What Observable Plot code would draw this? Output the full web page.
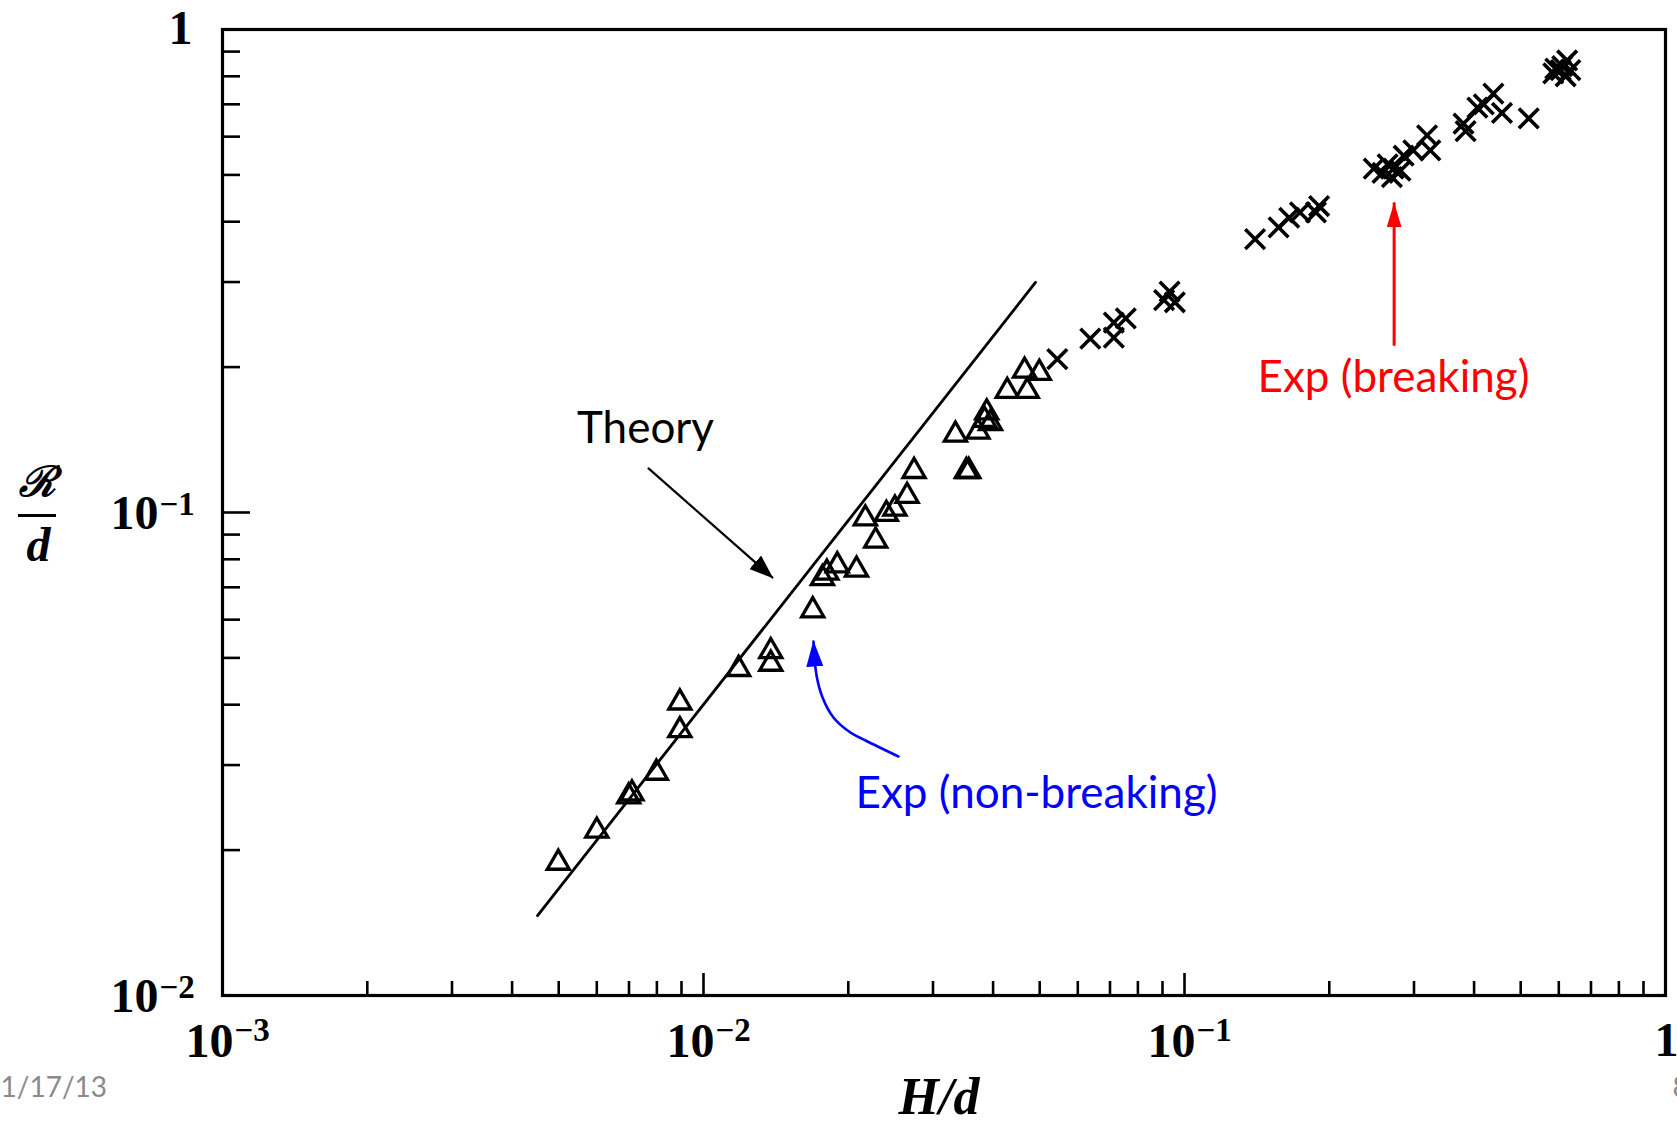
<!DOCTYPE html>
<html>
<head>
<meta charset="utf-8">
<script src="https://cdn.jsdelivr.net/npm/d3@7"></script>
<script src="https://cdn.jsdelivr.net/npm/@observablehq/plot@0.6"></script>
<style>
  html, body { margin: 0; padding: 0; background: #fff; }
  #wrap { position: relative; width: 1677px; height: 1126px; overflow: hidden; }
</style>
</head>
<body>
<div id="wrap"></div>
<script>
// ---------- data ----------
// Experiments, non-breaking (triangles): H/d and R/d
const triH = [0.00499,0.0060,0.00699,0.0071,0.00798,0.00893,0.00893,0.01183,0.0138,0.0138,0.01687,0.01767,0.01805,0.01897,0.0208,0.0217,0.0228,0.0240,0.0250,0.0265,0.0274,0.0334,0.0352,0.0356,0.0372,0.0384,0.0388,0.0395,0.0428,0.0465,0.0471,0.0499];
const triR = [0.01882,0.02193,0.02582,0.0262,0.0289,0.0354,0.0404,0.0474,0.0516,0.0486,0.0627,0.0731,0.0750,0.0777,0.0761,0.0972,0.0874,0.0993,0.1018,0.1082,0.1218,0.1448,0.1218,0.1218,0.1470,0.1554,0.1611,0.1531,0.1784,0.1965,0.1784,0.1945];
// Experiments, breaking (crosses)
const crsH = [0.0544,0.0637,0.0713,0.0713,0.0755,0.0907,0.0931,0.0955,0.1402,0.1569,0.1651,0.1738,0.1876,0.1905,0.2474,0.2580,0.2644,0.2699,0.2720,0.2812,0.2855,0.2990,0.3194,0.3244,0.3802,0.3841,0.4064,0.4190,0.4387,0.4571,0.5196,0.5843,0.5900,0.6055,0.6100,0.6200,0.6245,0.6341];
const crsR = [0.2078,0.2291,0.2472,0.2302,0.2523,0.2752,0.2867,0.2724,0.3681,0.3893,0.4076,0.4181,0.4181,0.4310,0.5152,0.5050,0.5258,0.4948,0.5150,0.5101,0.5479,0.5621,0.6035,0.5621,0.6384,0.6161,0.6892,0.6998,0.7364,0.6718,0.6547,0.8114,0.8300,0.8237,0.8400,0.8000,0.8627,0.8237];
// Theory line (end points)
const theoryH = [0.004518, 0.0490];
const theoryR = [0.01464, 0.2994];

// Tick labels
const xDecades = [1e-3, 1e-2, 1e-1];
const xExp = ["\u22123", "\u22122", "\u22121"];
const yDecades = [1e-2, 1e-1];
const yExp = ["\u22122", "\u22121"];
const xMinorMult = [2,3,4,5,6,7,8,9];

// Annotations
const annText = ["Theory", "Exp (non-breaking)", "Exp (breaking)"];
const annH = [0.007576, 0.04925, 0.2719];
const annR = [0.1492, 0.02619, 0.1903];
const annColor = ["black", "#0000ff", "#ff0000"];
const theoryArrowH = [0.007686, 0.01391];
const theoryArrowR = [0.1234, 0.07335];
const blueArrowH = [0.02543, 0.02172, 0.02020, 0.01863, 0.01768, 0.01718, 0.01693];
const blueArrowR = [0.03125, 0.03373, 0.03503, 0.03763, 0.04140, 0.04597, 0.05406];
const redArrowH = [0.2728, 0.2728];
const redArrowR = [0.2228, 0.4363];

// ---------- build tables ----------
const tri = triH.map((h, i) => ({h, r: triR[i]}));
const crs = crsH.map((h, i) => ({h, r: crsR[i]}));
const theory = theoryH.map((h, i) => ({h, r: theoryR[i]}));
const ann = annText.map((t, i) => ({t, h: annH[i], r: annR[i], c: annColor[i]}));
const tArrow = theoryArrowH.map((h, i) => ({h, r: theoryArrowR[i]}));
const bArrow = blueArrowH.map((h, i) => ({h, r: blueArrowR[i]}));
const rArrow = redArrowH.map((h, i) => ({h, r: redArrowR[i]}));
const xMinor = xDecades.flatMap(e => xMinorMult.map(k => k * e));
const yMinor = yDecades.flatMap(e => xMinorMult.map(k => k * e));

const W = 1677, H = 1126, mL = 222, mR = 12, mT = 29, mB = 131;
const plotW = W - mL - mR, plotH = H - mT - mB;
const serif = "Liberation Serif, Times New Roman, serif";
const sans = "Lato, Open Sans, sans-serif";

function head(len, wid) {
  return (color) => {
    const m = d3.create("svg:marker")
      .attr("viewBox", `0 ${-wid/2} ${len} ${wid}`)
      .attr("markerUnits", "userSpaceOnUse")
      .attr("markerWidth", len).attr("markerHeight", wid)
      .attr("refX", len - 1).attr("refY", 0)
      .attr("orient", "auto")
      .attr("fill", color).attr("stroke", "none");
    m.append("path").attr("d", `M0,${-wid/2}L${len},0L0,${wid/2}Z`);
    return m.node();
  };
}

function build(useCustom) {
  const mk = (l, w) => useCustom ? head(l, w) : "arrow";
  return Plot.plot({
    width: W, height: H,
    marginLeft: mL, marginRight: mR, marginTop: mT, marginBottom: mB,
    x: {type: "log", domain: [1e-3, 1], axis: null},
    y: {type: "log", domain: [1e-2, 1], axis: null},
    style: {background: "white", overflow: "visible"},
    marks: [
      // ticks (inward)
      Plot.ruleX(xMinor, {x: d => d, insetTop: plotH - 14, stroke: "black", strokeWidth: 2.6}),
      Plot.ruleX([1e-2, 1e-1], {x: d => d, insetTop: plotH - 22, stroke: "black", strokeWidth: 2.6}),
      Plot.ruleY(yMinor, {y: d => d, insetRight: plotW - 18, stroke: "black", strokeWidth: 2.6}),
      Plot.ruleY([1e-1], {y: d => d, insetRight: plotW - 28, stroke: "black", strokeWidth: 2.6}),
      Plot.frame({stroke: "black", strokeWidth: 3.2}),
      // theory
      Plot.line(theory, {x: "h", y: "r", stroke: "black", strokeWidth: 2.8}),
      // data
      Plot.dot(tri, {x: "h", y: "r", symbol: "triangle", r: 8.2, fill: "none", stroke: "black", strokeWidth: 3.3}),
      Plot.dot(crs, {x: "h", y: "r", symbol: "times", r: 9, stroke: "black", strokeWidth: 3.6}),
      // x tick labels
      Plot.text(xDecades, {x: d => d, frameAnchor: "bottom", text: () => "10", textAnchor: "end", lineAnchor: "middle", dx: 11, dy: 46, fontSize: 48, fontWeight: "bold", fontFamily: serif, fill: "black"}),
      Plot.text(xDecades, {x: d => d, frameAnchor: "bottom", text: (d, i) => xExp[i], textAnchor: "start", lineAnchor: "middle", dx: 12, dy: 35, fontSize: 33, fontWeight: "bold", fontFamily: serif, fill: "black"}),
      Plot.text([1], {x: d => d, frameAnchor: "bottom", text: () => "1", textAnchor: "middle", lineAnchor: "middle", dx: 1, dy: 45, fontSize: 48, fontWeight: "bold", fontFamily: serif, fill: "black"}),
      // y tick labels
      Plot.text(yDecades, {y: d => d, frameAnchor: "left", text: () => "10", textAnchor: "end", lineAnchor: "middle", dx: -64, dy: 1, fontSize: 48, fontWeight: "bold", fontFamily: serif, fill: "black"}),
      Plot.text(yDecades, {y: d => d, frameAnchor: "left", text: (d, i) => yExp[i], textAnchor: "start", lineAnchor: "middle", dx: -63, dy: -8, fontSize: 33, fontWeight: "bold", fontFamily: serif, fill: "black"}),
      Plot.text([1], {y: d => d, frameAnchor: "left", text: () => "1", textAnchor: "end", lineAnchor: "middle", dx: -30, dy: -1, fontSize: 48, fontWeight: "bold", fontFamily: serif, fill: "black"}),
      // axis titles
      Plot.text(["H/d"], {frameAnchor: "bottom", text: d => d, textAnchor: "middle", lineAnchor: "middle", dx: -5, dy: 102, fontSize: 52, fontWeight: "bold", fontStyle: "italic", fontFamily: serif, fill: "black"}),
      Plot.text([0.1], {y: d => d, frameAnchor: "left", text: () => "\u211B", textAnchor: "middle", lineAnchor: "middle", dx: -185, dy: -30, fontSize: 42, fontWeight: "bold", fontStyle: "italic", fontFamily: "DejaVu Serif, serif", fill: "black"}),
      Plot.ruleY([0.1], {y: d => d, insetLeft: -(mL - 18), insetRight: plotW + (mL - 56), dy: 3, stroke: "black", strokeWidth: 3}),
      Plot.text([0.1], {y: d => d, frameAnchor: "left", text: () => "d", textAnchor: "middle", lineAnchor: "middle", dx: -184, dy: 33, fontSize: 48, fontWeight: "bold", fontStyle: "italic", fontFamily: serif, fill: "black"}),
      // annotations
      Plot.text(ann, {x: "h", y: "r", text: "t", fill: "c", textAnchor: "middle", lineAnchor: "middle", fontSize: 44, fontFamily: sans}),
      Plot.line(tArrow, {x: "h", y: "r", stroke: "black", strokeWidth: 2.2, markerEnd: mk(24, 18)}),
      Plot.line(bArrow, {x: "h", y: "r", curve: "catmull-rom", stroke: "#0000ff", strokeWidth: 2.6, markerEnd: mk(26, 17)}),
      Plot.line(rArrow, {x: "h", y: "r", stroke: "#ff0000", strokeWidth: 3, markerEnd: mk(25, 15)}),
      // slide footer
      Plot.text(["1/17/13"], {frameAnchor: "bottom-left", text: d => d, textAnchor: "start", lineAnchor: "middle", dx: -mL, dy: 93, fontSize: 28, fontFamily: sans, fill: "#8a8a8a"}),
      Plot.text(["8"], {frameAnchor: "bottom-right", text: d => d, textAnchor: "start", lineAnchor: "middle", dx: 7, dy: 93, fontSize: 28, fontFamily: sans, fill: "#8a8a8a"})
    ]
  });
}

let chart;
try { chart = build(true); } catch (e) { console.warn(e); chart = build(false); }
document.getElementById("wrap").appendChild(chart);
</script>
</body>
</html>
